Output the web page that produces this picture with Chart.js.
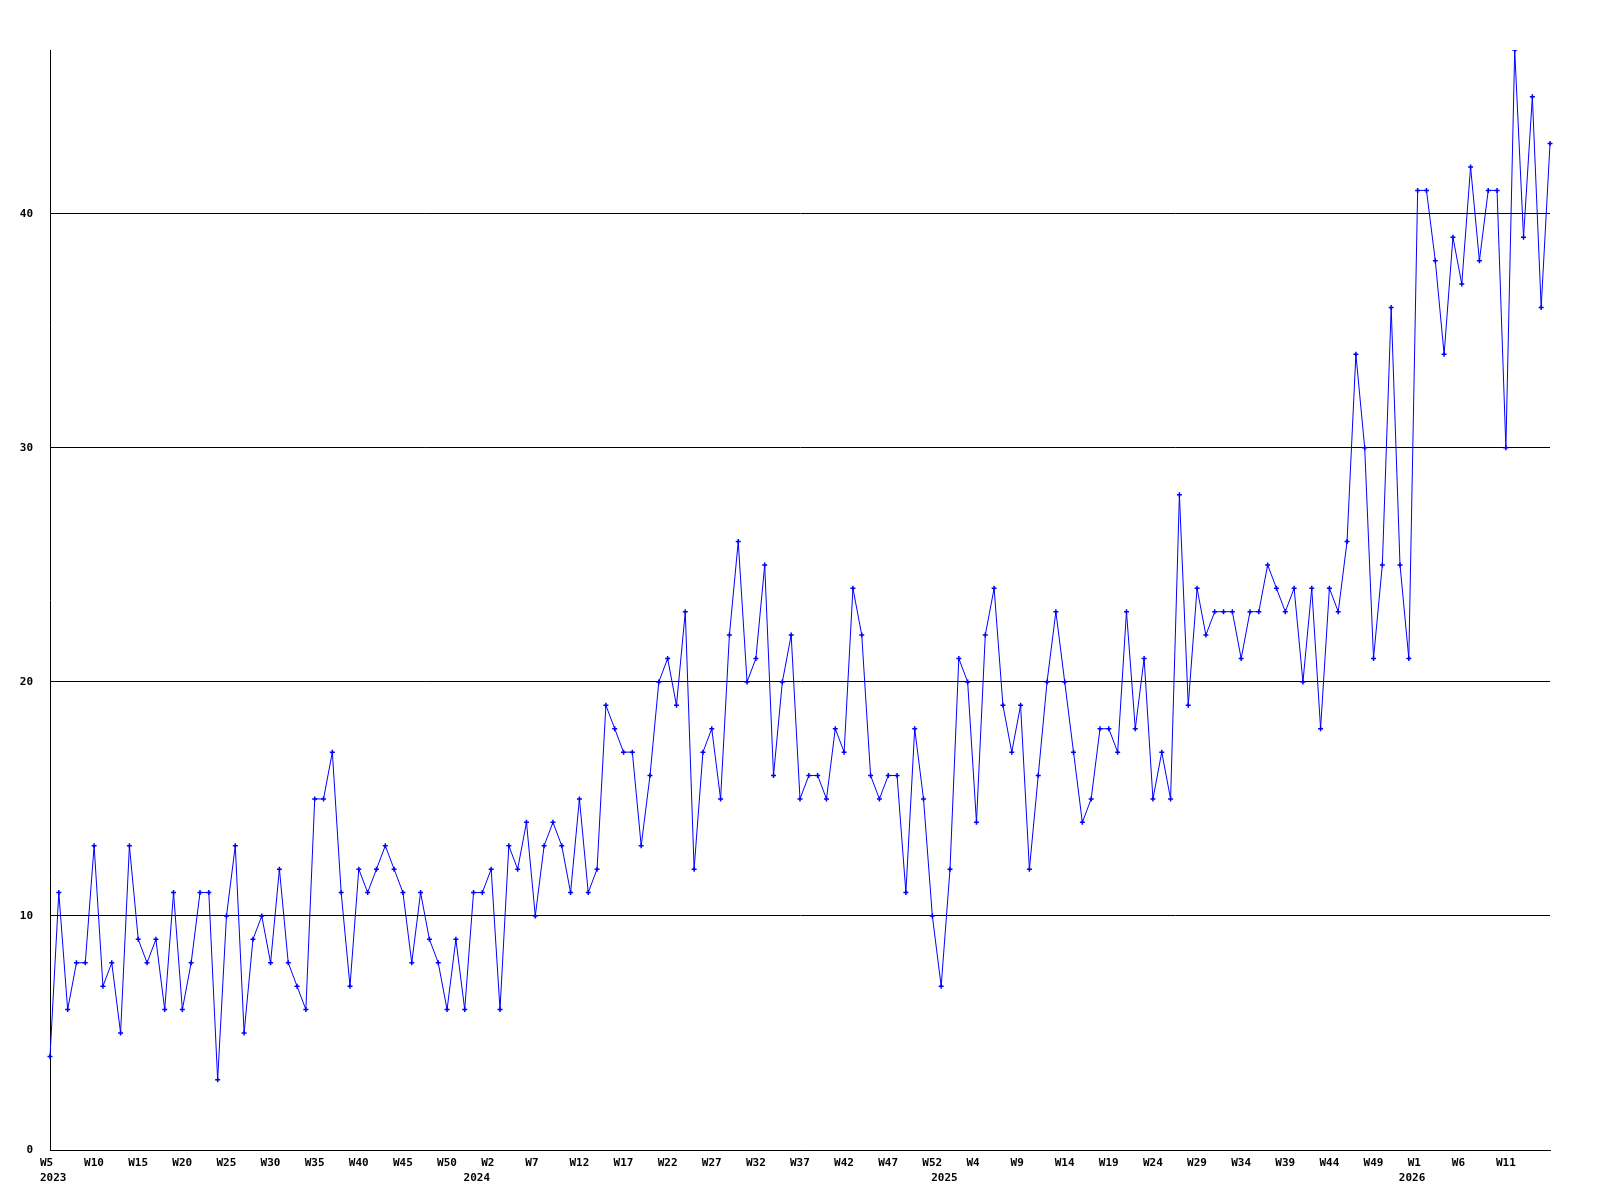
<!DOCTYPE html>
<html>
<head>
<meta charset="utf-8">
<title>Weekly count</title>
<script src="https://cdn.jsdelivr.net/npm/chart.js@4.4.1/dist/chart.umd.min.js"></script>
<style>
  body { margin: 0; background: #fff; }
  canvas { display: block; }
</style>
</head>
<body>
<canvas id="chart" width="1600" height="1200"></canvas>
<script>
// weeks covered, per year (first and last week number)
const years = [2023, 2024, 2025, 2026];
const firstWeek = [5, 0, 0, 0];
const lastWeek = [52, 52, 52, 16];

// one value per week, 2023 W5 .. 2026 W16
const counts = [
  4, 11, 6, 8, 8, 13, 7, 8, 5, 13, 9, 8, 9, 6, 11, 6, 8, 11, 11, 3,
  10, 13, 5, 9, 10, 8, 12, 8, 7, 6, 15, 15, 17, 11, 7, 12, 11, 12, 13, 12,
  11, 8, 11, 9, 8, 6, 9, 6, 11, 11, 12, 6, 13, 12, 14, 10, 13, 14, 13, 11,
  15, 11, 12, 19, 18, 17, 17, 13, 16, 20, 21, 19, 23, 12, 17, 18, 15, 22, 26, 20,
  21, 25, 16, 20, 22, 15, 16, 16, 15, 18, 17, 24, 22, 16, 15, 16, 16, 11, 18, 15,
  10, 7, 12, 21, 20, 14, 22, 24, 19, 17, 19, 12, 16, 20, 23, 20, 17, 14, 15, 18,
  18, 17, 23, 18, 21, 15, 17, 15, 28, 19, 24, 22, 23, 23, 23, 21, 23, 23, 25, 24,
  23, 24, 20, 24, 18, 24, 23, 26, 34, 30, 21, 25, 36, 25, 21, 41, 41, 38, 34, 39,
  37, 42, 38, 41, 41, 30, 47, 39, 45, 36, 43
];

const yTicks = [0, 10, 20, 30, 40];
const yMax = 47;
const labelEvery = 5;

// build the week labels and remember where each year starts
const weekLabels = [];
const yearAt = {};
years.forEach((y, i) => {
  yearAt[weekLabels.length] = String(y);
  for (let w = firstWeek[i]; w <= lastWeek[i]; w++) {
    weekLabels.push('W' + w);
  }
});

const tickFont = { family: 'DejaVu Sans Mono', size: 11, weight: 'bold', lineHeight: 1.35 };

new Chart(document.getElementById('chart'), {
  type: 'line',
  data: {
    labels: weekLabels,
    datasets: [{
      data: counts,
      borderColor: '#0000ff',
      backgroundColor: '#0000ff',
      borderWidth: 1,
      tension: 0,
      pointStyle: 'cross',
      pointRadius: 2.5,
      pointBorderWidth: 1.5,
      pointBorderColor: '#0000ff'
    }]
  },
  options: {
    responsive: false,
    animation: false,
    devicePixelRatio: 1,
    layout: { padding: { top: 50, right: 50, left: 0, bottom: 0 } },
    plugins: {
      legend: { display: false },
      tooltip: { enabled: false }
    },
    scales: {
      x: {
        grid: { display: false },
        border: { display: true, color: '#000', width: 1 },
        afterFit: scale => { scale.height = 50; },
        ticks: {
          autoSkip: false,
          maxRotation: 0,
          minRotation: 0,
          align: 'start',
          labelOffset: -10,
          padding: -2,
          color: '#000',
          font: tickFont,
          callback: function (value, index) {
            // the last week gets no label in the original
            const show = index % labelEvery === 0 && index < weekLabels.length - 1;
            const week = show ? weekLabels[index] : '';
            const year = yearAt[index];
            if (year) return [week, year];
            return week;
          }
        }
      },
      y: {
        min: 0,
        max: yMax,
        grid: { color: '#000', lineWidth: 1, drawTicks: false },
        border: { display: true, color: '#000', width: 1 },
        afterFit: scale => { scale.width = 50; },
        afterBuildTicks: scale => {
          scale.ticks = yTicks.map(v => ({ value: v }));
        },
        ticks: {
          padding: 17,
          color: '#000',
          font: tickFont
        }
      }
    }
  }
});
</script>
</body>
</html>
